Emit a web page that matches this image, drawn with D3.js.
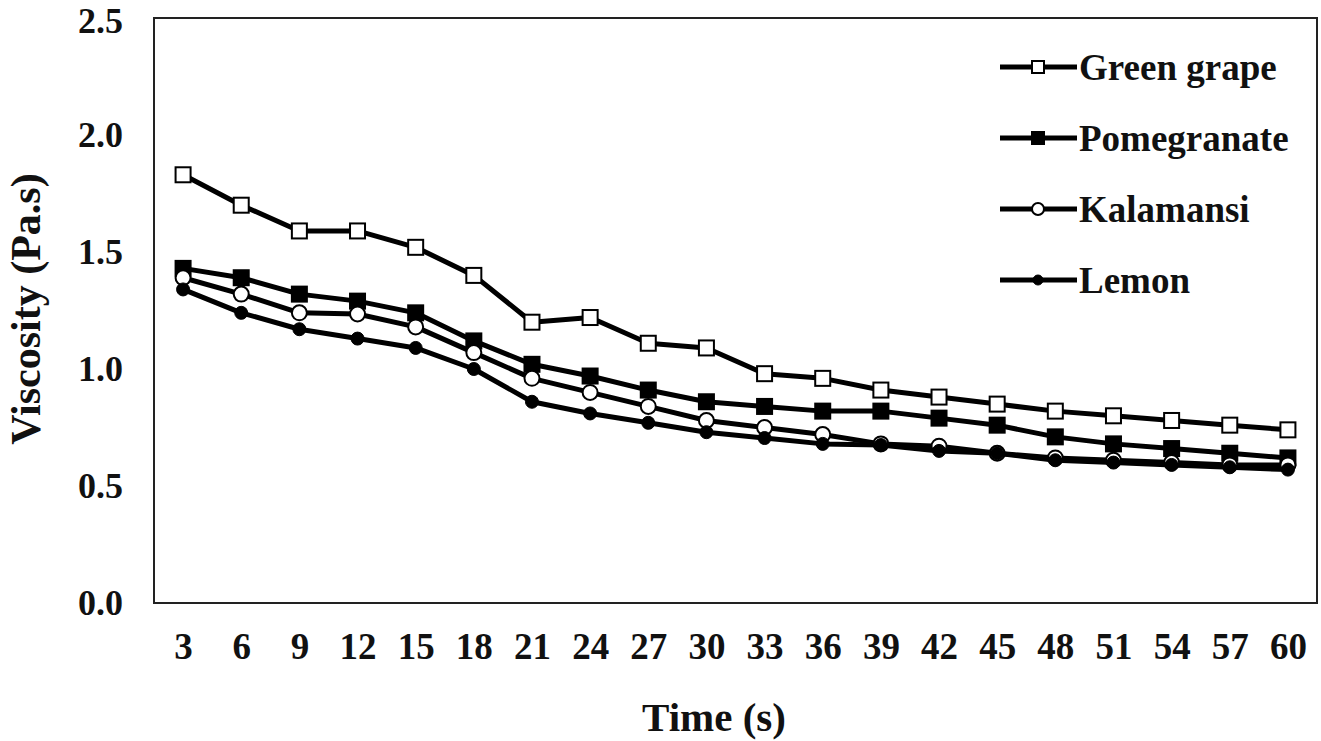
<!DOCTYPE html>
<html>
<head>
<meta charset="utf-8">
<script src="https://cdn.jsdelivr.net/npm/d3@7"></script>
<style>
  html, body { margin: 0; padding: 0; background: #fff; }
  svg text { font-family: "Liberation Serif", "DejaVu Serif", "Times New Roman", Times, serif; font-weight: bold; fill: #111; }
</style>
</head>
<body>
<svg id="chart" width="1321" height="741"></svg>
<script>
const time = [3, 6, 9, 12, 15, 18, 21, 24, 27, 30, 33, 36, 39, 42, 45, 48, 51, 54, 57, 60];
const greenGrape  = [1.83, 1.70, 1.59, 1.59, 1.52, 1.40, 1.20, 1.22, 1.11, 1.09, 0.98, 0.96, 0.91, 0.88, 0.85, 0.82, 0.80, 0.78, 0.76, 0.74];
const pomegranate = [1.43, 1.39, 1.32, 1.29, 1.24, 1.12, 1.02, 0.97, 0.91, 0.86, 0.84, 0.82, 0.82, 0.79, 0.76, 0.71, 0.68, 0.66, 0.64, 0.62];
const kalamansi   = [1.39, 1.32, 1.24, 1.235, 1.18, 1.07, 0.96, 0.90, 0.84, 0.78, 0.75, 0.72, 0.68, 0.67, 0.64, 0.62, 0.61, 0.60, 0.59, 0.59];
const lemon       = [1.34, 1.24, 1.17, 1.13, 1.09, 1.00, 0.86, 0.81, 0.77, 0.73, 0.705, 0.68, 0.675, 0.65, 0.64, 0.61, 0.60, 0.59, 0.58, 0.57];
const seriesNames = ["Green grape", "Pomegranate", "Kalamansi", "Lemon"];
const yTicks = [0, 0.5, 1.0, 1.5, 2.0, 2.5];

const series = [
  { name: seriesNames[0], values: greenGrape,  marker: "square", fill: "#fff" },
  { name: seriesNames[1], values: pomegranate, marker: "square", fill: "#000" },
  { name: seriesNames[2], values: kalamansi,   marker: "circle", fill: "#fff" },
  { name: seriesNames[3], values: lemon,       marker: "dot",    fill: "#000" }
];

const FONT = "'Liberation Serif', 'DejaVu Serif', 'Times New Roman', Times, serif";
const L = 154, R = 1317, T = 18, B = 603;
const svg = d3.select("#chart");

const x = d3.scalePoint().domain(time).range([L, R]).padding(0.5);
const y = d3.scaleLinear().domain([0, 2.5]).range([B, T]);

// frame
svg.append("rect").attr("x", L).attr("y", T).attr("width", R - L).attr("height", B - T)
  .attr("fill", "none").attr("stroke", "#222").attr("stroke-width", 2);

// axes
const yAxis = svg.append("g").attr("transform", `translate(${L},0)`)
  .call(d3.axisLeft(y).tickValues(yTicks).tickSize(0).tickPadding(31).tickFormat(d3.format(".1f")));
yAxis.attr("font-family", FONT);
yAxis.select(".domain").remove();
yAxis.selectAll("text").style("font-size", "36px").attr("fill", "#111");
yAxis.selectAll(".tick").filter(d => d === 2.5).select("text").attr("dy", "0.40em");

const xAxis = svg.append("g").attr("transform", `translate(0,${B})`)
  .call(d3.axisBottom(x).tickSize(0).tickPadding(30));
xAxis.attr("font-family", FONT);
xAxis.select(".domain").remove();
xAxis.selectAll("text").style("font-size", "37px").attr("fill", "#111");

// titles
svg.append("text").attr("x", 714).attr("y", 731).attr("text-anchor", "middle")
  .style("font-size", "41px").text("Time (s)");
svg.append("text").attr("transform", "translate(40,309) rotate(-90)").attr("text-anchor", "middle")
  .style("font-size", "42px").text("Viscosity (Pa.s)");

function drawMarker(g, type, fill, cx, cy, s) {
  if (type === "square") {
    g.append("rect").attr("x", cx - s / 2).attr("y", cy - s / 2).attr("width", s).attr("height", s)
      .attr("fill", fill).attr("stroke", "#000").attr("stroke-width", 2);
  } else if (type === "circle") {
    g.append("circle").attr("cx", cx).attr("cy", cy).attr("r", s / 2)
      .attr("fill", fill).attr("stroke", "#000").attr("stroke-width", 2);
  } else {
    g.append("circle").attr("cx", cx).attr("cy", cy).attr("r", s / 2 - 1)
      .attr("fill", fill).attr("stroke", "#000").attr("stroke-width", 1);
  }
}

const line = d3.line().x((d, i) => x(time[i])).y(d => y(d));
series.forEach(s => {
  const g = svg.append("g");
  g.append("path").attr("d", line(s.values)).attr("fill", "none").attr("stroke", "#000")
    .attr("stroke-width", 5).attr("stroke-linejoin", "round");
  s.values.forEach((v, i) => drawMarker(g, s.marker, s.fill, x(time[i]), y(v), 15));
});

// legend
const legY = [67, 138, 209, 280];
series.forEach((s, i) => {
  const g = svg.append("g");
  g.append("line").attr("x1", 1000).attr("x2", 1077).attr("y1", legY[i]).attr("y2", legY[i])
    .attr("stroke", "#000").attr("stroke-width", 5);
  drawMarker(g, s.marker, s.fill, 1038, legY[i], 12);
  g.append("text").attr("x", 1079).attr("y", legY[i]).attr("dy", "0.35em")
    .style("font-size", "37px").text(s.name);
});
</script>
</body>
</html>
